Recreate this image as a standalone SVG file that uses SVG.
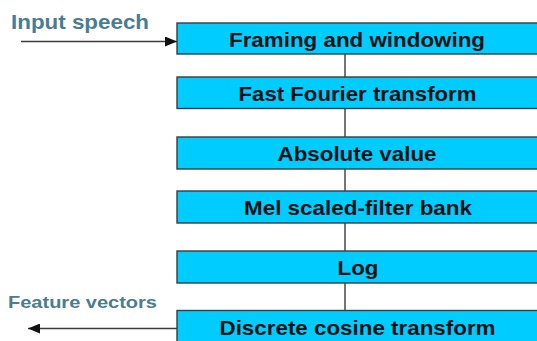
<svg xmlns="http://www.w3.org/2000/svg" width="537" height="341" viewBox="0 0 537 341">
  <style>
    .box { fill: #00ccff; stroke: #3c3c3c; stroke-width: 1.4; }
    .step { font-family: "Liberation Sans", Arial, sans-serif; font-weight: bold; font-size: 21px; fill: #111; text-anchor: middle; }
    .io { font-family: "Liberation Sans", Arial, sans-serif; font-weight: bold; fill: #4a7d8e; }
    .link { stroke: #3c3c3c; stroke-width: 1.4; fill: none; }
  </style>
  <defs>
    <marker id="head" viewBox="0 0 12 10" refX="12" refY="5" markerWidth="12" markerHeight="10" markerUnits="userSpaceOnUse" orient="auto">
      <path d="M0,0 L12,5 L0,10 Z" fill="#111"/>
    </marker>
  </defs>

  <rect width="537" height="341" fill="#ffffff"/>

  <!-- connectors -->
  <g id="connectors">
    <line class="link" x1="345" y1="54" x2="345" y2="77"/>
    <line class="link" x1="345" y1="108.5" x2="345" y2="137"/>
    <line class="link" x1="345" y1="169" x2="345" y2="191"/>
    <line class="link" x1="345" y1="223" x2="345" y2="251"/>
    <line class="link" x1="345" y1="283" x2="345" y2="310.5"/>
    <line class="link" x1="21" y1="41.5" x2="177" y2="41.5" marker-end="url(#head)"/>
    <line class="link" x1="177" y1="328.5" x2="28" y2="328.5" marker-end="url(#head)"/>
  </g>

  <!-- labels of the signal entering and leaving -->
  <text id="input-label" class="io" x="11" y="29" font-size="20.5" textLength="138" lengthAdjust="spacingAndGlyphs">Input speech</text>
  <text id="output-label" class="io" x="8" y="307.5" font-size="16.5" textLength="149" lengthAdjust="spacingAndGlyphs">Feature vectors</text>

  <!-- processing stages -->
  <g id="framing">
    <rect class="box" x="177" y="23" width="364" height="31"/>
    <text class="step" x="357" y="46.5" textLength="256" lengthAdjust="spacingAndGlyphs">Framing and windowing</text>
  </g>
  <g id="fft">
    <rect class="box" x="177" y="77" width="364" height="31.5"/>
    <text class="step" x="357.5" y="100.5" textLength="238" lengthAdjust="spacingAndGlyphs">Fast Fourier transform</text>
  </g>
  <g id="absolute">
    <rect class="box" x="177" y="137" width="364" height="32"/>
    <text class="step" x="357" y="161" textLength="159" lengthAdjust="spacingAndGlyphs">Absolute value</text>
  </g>
  <g id="mel">
    <rect class="box" x="177" y="191" width="364" height="32"/>
    <text class="step" x="358" y="214.5" textLength="228" lengthAdjust="spacingAndGlyphs">Mel scaled-filter bank</text>
  </g>
  <g id="log">
    <rect class="box" x="177" y="251" width="364" height="32"/>
    <text class="step" x="358" y="274.5" textLength="41" lengthAdjust="spacingAndGlyphs">Log</text>
  </g>
  <g id="dct">
    <rect class="box" x="177" y="310.5" width="364" height="40"/>
    <text class="step" x="357.5" y="334.5" textLength="276" lengthAdjust="spacingAndGlyphs">Discrete cosine transform</text>
  </g>
</svg>
